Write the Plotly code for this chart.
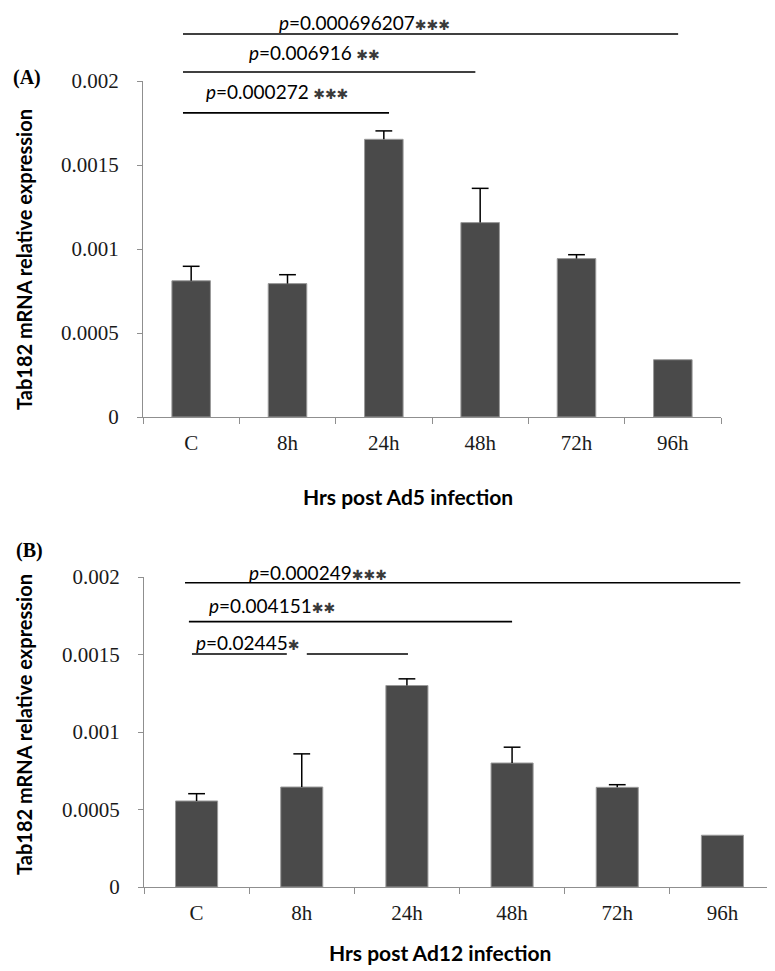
import plotly.graph_objects as go

# ---------------- data ----------------
categories = ["C", "8h", "24h", "48h", "72h", "96h"]

ad5_values = [0.000811, 0.000794, 0.001653, 0.001157, 0.000943, 0.000341]
ad5_errors = [0.000086, 0.000053, 0.000050, 0.000204, 0.000023, None]

ad12_values = [0.000555, 0.000645, 0.001300, 0.000800, 0.000643, 0.000334]
ad12_errors = [0.000047, 0.000214, 0.000043, 0.000102, 0.000017, None]

ytick_vals = [0, 0.0005, 0.001, 0.0015, 0.002]
ytick_text = ["0", "0.0005", "0.001", "0.0015", "0.002"]

# comparisons: (from category, to category, p value, stars)
ad5_comparisons = [("C", "24h", "0.000272", " ***"),
                   ("C", "48h", "0.006916", " **"),
                   ("C", "96h", "0.000696207", "***")]
ad12_comparisons = [("C", "24h", "0.02445", "*"),
                    ("C", "48h", "0.004151", "**"),
                    ("C", "96h", "0.000249", "***")]

panel_labels = ["(A)", "(B)"]
y_title = "Tab182 mRNA relative expression"
x_titles = ["Hrs post Ad5 infection", "Hrs post Ad12 infection"]

# ---------------- layout helpers ----------------
PAGE_OFF = 8            # default body margin of the html page
W, H = 775 - PAGE_OFF, 971 - PAGE_OFF
ML, MR = 143 - PAGE_OFF, 0
PW = W - ML - MR
YMAX = 0.002


def paper_x(px):
    """page pixel -> paper fraction"""
    return (px - PAGE_OFF - ML) / PW


def paper_y(py):
    return 1 - (py - PAGE_OFF) / H


BAR_COLOR = "#4a4a4a"
AXIS_COLOR = "#8f8f8f"
SANS = "Lato, 'Open Sans', sans-serif"
SERIF = "'Liberation Serif', 'Times New Roman', serif"

fig = go.Figure()

for vals, errs, xa, ya in [(ad5_values, ad5_errors, "x", "y"),
                           (ad12_values, ad12_errors, "x2", "y2")]:
    fig.add_trace(go.Bar(
        x=categories, y=vals, width=0.4,
        marker=dict(color=BAR_COLOR, line=dict(color="#9a9a9a", width=1)),
        xaxis=xa, yaxis=ya, showlegend=False, cliponaxis=False,
        hoverinfo="x+y",
    ))
    # error bars (upper only): cap marker at mean+err, stem down to the bar top
    tops = [v + e if e is not None else None for v, e in zip(vals, errs)]
    fig.add_trace(go.Scatter(
        x=categories, y=tops, mode="markers",
        marker=dict(symbol="line-ew-open", size=12, color="black",
                    line=dict(color="black", width=1.5)),
        error_y=dict(type="data", symmetric=False,
                     array=[0 if e is not None else None for e in errs],
                     arrayminus=errs, color="black", thickness=1.5, width=0),
        xaxis=xa, yaxis=ya, showlegend=False, cliponaxis=False,
        hoverinfo="skip",
    ))

xaxis_common = dict(
    type="category", range=[-0.5, 5.5], showline=True, linecolor=AXIS_COLOR,
    linewidth=1.3, ticks="outside", tickson="boundaries", ticklen=6,
    tickcolor=AXIS_COLOR, tickwidth=1.3, showgrid=False, zeroline=False,
    tickfont=dict(family=SERIF, size=21, color="#1a1a1a"),
    ticklabelstandoff=7, automargin=False,
)
yaxis_common = dict(
    range=[0, YMAX], tickvals=ytick_vals, ticktext=ytick_text, showline=True,
    linecolor=AXIS_COLOR, linewidth=1.3, ticks="outside", ticklen=5,
    tickcolor=AXIS_COLOR, tickwidth=1.3, showgrid=False, zeroline=False,
    tickfont=dict(family=SERIF, size=21, color="#1a1a1a"),
    ticklabelstandoff=14, automargin=False,
)

fig.update_layout(
    template="none",
    width=W, height=H,
    margin=dict(l=ML, r=MR, t=0, b=0, pad=0, autoexpand=False),
    paper_bgcolor="white", plot_bgcolor="white",
    bargap=0.6,
    xaxis=dict(domain=[0, paper_x(721)], anchor="y", **xaxis_common),
    yaxis=dict(domain=[paper_y(417), paper_y(81)], anchor="x", **yaxis_common),
    xaxis2=dict(domain=[paper_x(144), 1], anchor="y2", **xaxis_common),
    yaxis2=dict(domain=[paper_y(887), paper_y(577)], anchor="x2", **yaxis_common),
)

# ---------------- significance brackets ----------------
bracket_layout = {
    "A": dict(comps=ad5_comparisons, xa="x", ya="y",
              levels=[0.00181, 0.002054, 0.00228],
              start_off=[-0.085, -0.085, -0.085], end_off=[0.054, -0.05, 0.055],
              text_x=[0.133, 0.58, 0.891], text_y=[0.001935, 0.002167, 0.00235],
              gaps=[None, None, None]),
    "B": dict(comps=ad12_comparisons, xa="x2", ya="y2",
              levels=[0.001503, 0.001712, 0.001963],
              start_off=[-0.044, -0.073, -0.11], end_off=[0.01, 0.0, 0.17],
              text_x=[-0.025, 0.098, 0.478], text_y=[0.00158, 0.001813, 0.002032],
              gaps=[(0.858, 1.048), None, None]),
}

for key, bl in bracket_layout.items():
    xd = bl["xa"] + " domain"
    yd = bl["ya"] + " domain"
    for i, (c0, c1, pval, stars) in enumerate(bl["comps"]):
        x0 = categories.index(c0) + bl["start_off"][i]
        x1 = categories.index(c1) + bl["end_off"][i]
        segs = [(x0, x1)]
        if bl["gaps"][i]:
            g0, g1 = bl["gaps"][i]
            segs = [(x0, g0), (g1, x1)]
        lvl = bl["levels"][i] / YMAX
        for s0, s1 in segs:
            fig.add_shape(type="line", xref=xd, yref=yd,
                          x0=(s0 + 0.5) / 6, x1=(s1 + 0.5) / 6, y0=lvl, y1=lvl,
                          line=dict(color="black", width=1.6))
        star_html = stars.replace("*", "✱")
        fig.add_annotation(
            xref=bl["xa"], yref=yd, x=bl["text_x"][i],
            y=bl["text_y"][i] / YMAX, xanchor="left", yanchor="middle",
            showarrow=False,
            text=f"<i>p</i>={pval}<span style='font-family:DejaVu Sans;font-size:14px;color:#3a3a3a'>{star_html}</span>",
            font=dict(family=SANS, size=19, color="black"),
        )

# ---------------- titles / labels ----------------
for lbl, (px, py) in zip(panel_labels, [(27, 77), (29, 550)]):
    fig.add_annotation(xref="paper", yref="paper", x=paper_x(px), y=paper_y(py),
                       xanchor="center", yanchor="middle",
                       text=f"<b>{lbl}</b>", showarrow=False,
                       font=dict(family=SERIF, size=20, color="black"))

for py in [260, 725]:
    fig.add_annotation(xref="paper", yref="paper", x=paper_x(24), y=paper_y(py),
                       xanchor="center", yanchor="middle",
                       text=f"<b>{y_title}</b>", textangle=-90, showarrow=False,
                       font=dict(family=SANS, size=20, color="black"))

for t, (px, py) in zip(x_titles, [(408, 497), (440, 952)]):
    fig.add_annotation(xref="paper", yref="paper", x=paper_x(px), y=paper_y(py),
                       xanchor="center", yanchor="middle",
                       text=f"<b>{t}</b>", showarrow=False,
                       font=dict(family=SANS, size=21, color="black"))

fig.write_html("out.html")
